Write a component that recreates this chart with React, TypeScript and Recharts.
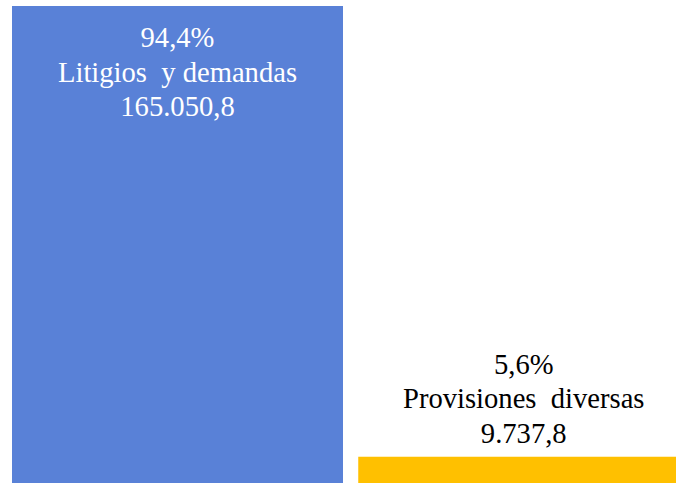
import { BarChart, Bar, XAxis, YAxis } from "recharts";

// Provisiones: composición (millones)
const categories = ["Litigios  y demandas", "Provisiones  diversas"];
const amounts = [165050.8, 9737.8];
const barColors = ["#5981D7", "#FFC000"];
const labelColors = ["#FFFFFF", "#000000"];

const total = amounts.reduce((a, b) => a + b, 0);

// 165050.8 -> "165.050,8"
function fmtAmount(v: number): string {
  const [int, dec] = v.toFixed(1).split(".");
  return int.replace(/\B(?=(\d{3})+(?!\d))/g, ".") + "," + dec;
}

function fmtPct(v: number): string {
  return ((v / total) * 100).toFixed(1).replace(".", ",") + "%";
}

const data = categories.map((name, i) => ({
  name,
  value: amounts[i],
  pct: fmtPct(amounts[i]),
  amount: fmtAmount(amounts[i]),
}));

const LINE = 34.5;
const SERIF = "'Liberation Serif', 'Times New Roman', serif";

// rect + its three-line label; the big bar holds the text inside,
// the small one has it stacked above
function LabelledBar(props: any) {
  const { x, y, width, height, index } = props;
  const d = data[index];
  const cx = x + width / 2;
  const first = index === 0 ? y + 41 : y - 14 - 2 * LINE;
  // keep the double gap in the names (svg collapses plain spaces)
  const lines = [d.pct, d.name.replace(/  /g, " \u00A0"), d.amount];
  return (
    <g>
      <rect x={x} y={y} width={width} height={height} fill={barColors[index]} />
      {lines.map((t, k) => (
        <text
          key={k}
          x={cx}
          y={first + k * LINE}
          textAnchor="middle"
          fill={labelColors[index]}
          style={{ fontFamily: SERIF, fontSize: 28.6 }}
        >
          {t}
        </text>
      ))}
    </g>
  );
}

export default function App() {
  return (
    <div
      style={{
        position: "fixed",
        left: 0,
        top: 0,
        width: 676,
        height: 483,
        overflow: "hidden",
        background: "#ffffff",
      }}
    >
      <BarChart
        width={697}
        height={485}
        data={data}
        margin={{ top: 6, right: 0, bottom: 0, left: 4.5 }}
        barCategoryGap={7.5}
      >
        <XAxis dataKey="name" hide />
        <YAxis hide domain={[0, amounts[0]]} />
        <Bar dataKey="value" isAnimationActive={false} shape={LabelledBar} />
      </BarChart>
    </div>
  );
}
